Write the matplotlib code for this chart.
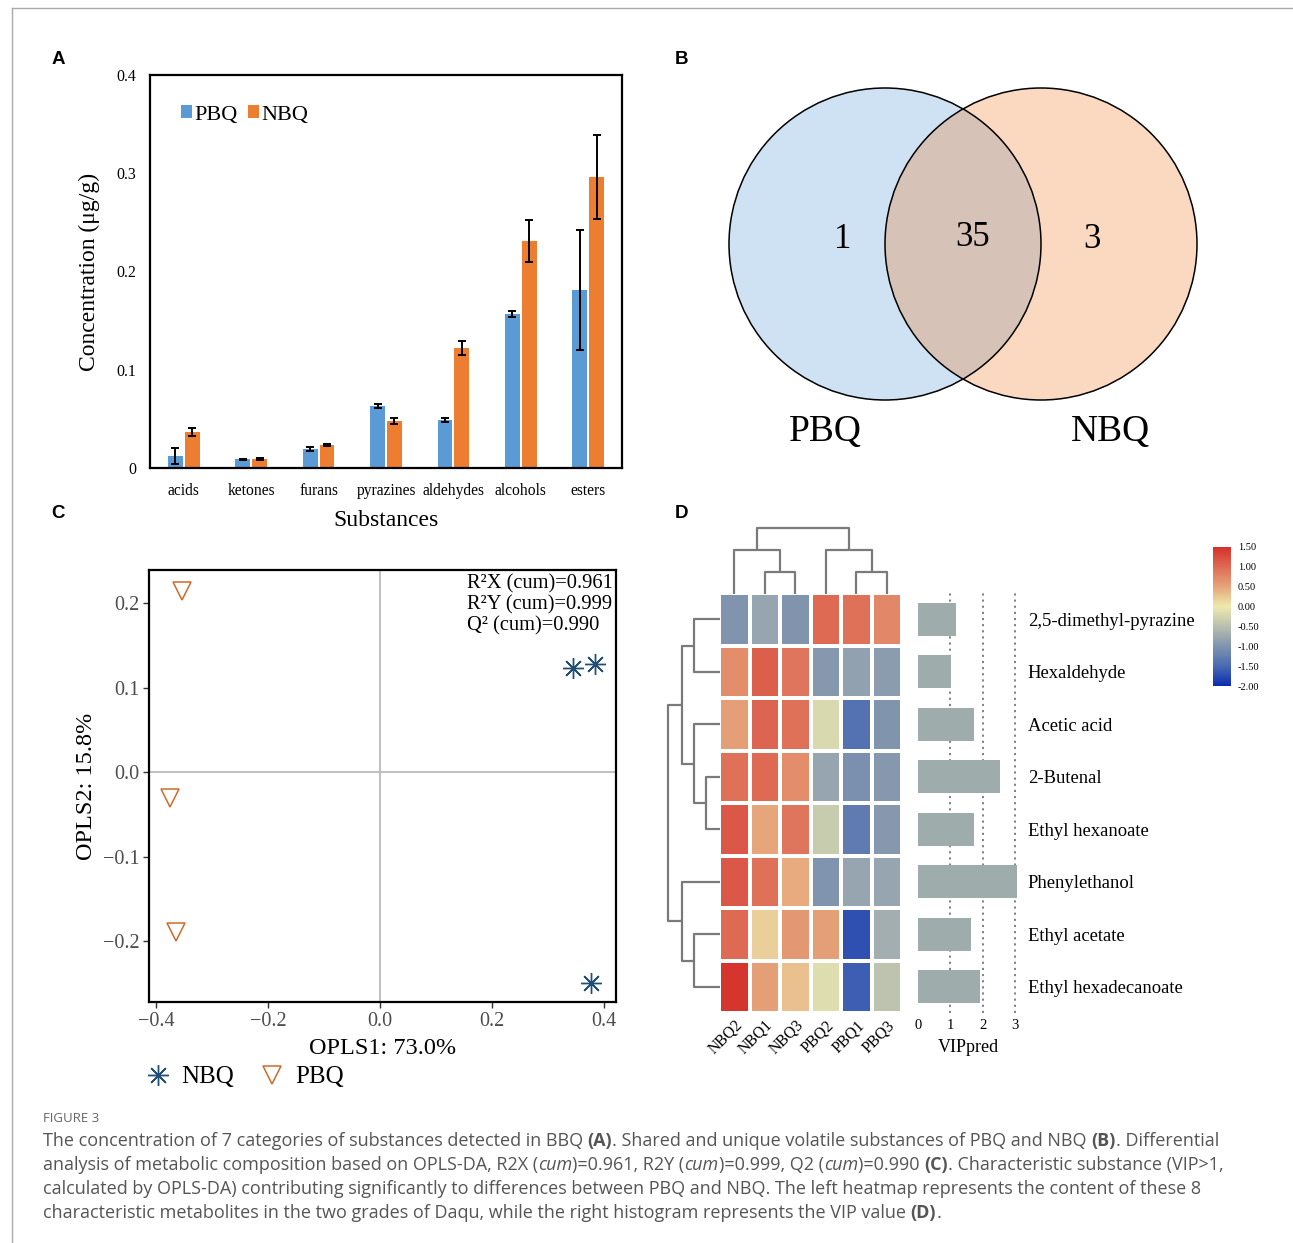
import numpy as np
import matplotlib
matplotlib.use('Agg')
import matplotlib.pyplot as plt
from matplotlib.patches import Circle
from matplotlib.colors import LinearSegmentedColormap
from matplotlib.lines import Line2D
from matplotlib.cm import ScalarMappable
from matplotlib.colors import Normalize

# ---------------- data ----------------
# Panel A
categories = ['acids', 'ketones', 'furans', 'pyrazines', 'aldehydes', 'alcohols', 'esters']
pbq_conc = [0.012, 0.009, 0.019, 0.063, 0.049, 0.157, 0.181]
pbq_err = [0.008, 0.0006, 0.002, 0.002, 0.002, 0.003, 0.061]
nbq_conc = [0.037, 0.009, 0.023, 0.048, 0.122, 0.231, 0.296]
nbq_err = [0.004, 0.001, 0.001, 0.003, 0.007, 0.021, 0.043]
a_yticks = [0, 0.1, 0.2, 0.3, 0.4]
a_yticklabels = ['0', '0.1', '0.2', '0.3', '0.4']

# Panel B
venn_names = ['PBQ', 'NBQ']
venn_only_pbq = 1
venn_shared = 35
venn_only_nbq = 3

# Panel C
nbq_x = [0.345, 0.384, 0.377]
nbq_y = [0.123, 0.128, -0.250]
pbq_x = [-0.354, -0.375, -0.364]
pbq_y = [0.214, -0.031, -0.189]
c_ticks_x = [-0.4, -0.2, 0.0, 0.2, 0.4]
c_ticks_y = [-0.2, -0.1, 0.0, 0.1, 0.2]
opls_stats = ['R\u00b2X (cum)=0.961', 'R\u00b2Y (cum)=0.999', 'Q\u00b2 (cum)=0.990']

# Panel D
samples = ['NBQ2', 'NBQ1', 'NBQ3', 'PBQ2', 'PBQ1', 'PBQ3']
metabolites = ['2,5-dimethyl-pyrazine', 'Hexaldehyde', 'Acetic acid', '2-Butenal',
               'Ethyl hexanoate', 'Phenylethanol', 'Ethyl acetate', 'Ethyl hexadecanoate']
heat_r1 = [-1.00, -0.80, -1.00, 1.00, 0.95, 0.75]
heat_r2 = [0.70, 1.10, 0.90, -0.95, -0.85, -0.90]
heat_r3 = [0.55, 1.05, 0.95, -0.20, -1.40, -1.00]
heat_r4 = [0.95, 1.00, 0.70, -0.80, -1.05, -0.95]
heat_r5 = [1.15, 0.50, 0.90, -0.35, -1.30, -0.95]
heat_r6 = [1.15, 0.95, 0.45, -1.00, -0.80, -0.80]
heat_r7 = [1.00, 0.20, 0.60, 0.55, -1.70, -0.70]
heat_r8 = [1.45, 0.55, 0.30, -0.15, -1.60, -0.45]
vip_values = [1.17, 1.01, 1.73, 2.53, 1.74, 3.07, 1.65, 1.93]
col_merges = [(1, 2, 22), (4, 5, 22), (0, 6, 44), (3, 7, 44), (8, 9, 66)]
row_merges = [(3, 4, 14), (0, 1, 26), (2, 8, 26), (6, 7, 26), (9, 10, 38), (5, 11, 38), (12, 13, 52)]
cbar_ticks = [1.5, 1.0, 0.5, 0.0, -0.5, -1.0, -1.5, -2.0]
cbar_labels = ['1.50', '1.00', '0.50', '0.00', '-0.50', '-1.00', '-1.50', '-2.00']
vip_ticks = [0, 1, 2, 3]

# ---------------- figure ----------------
W, H = 1293, 1243
plt.rcParams['font.family'] = ['Liberation Serif', 'DejaVu Serif']
fig = plt.figure(figsize=(W / 100, H / 100), dpi=100)
fig.patch.set_facecolor('white')


def rect(l, t, r, b):
    return [l / W, 1 - b / H, (r - l) / W, (b - t) / H]


def fx(x):
    return x / W


def fy(y):
    return 1 - y / H


# page frame lines
fig.add_artist(Line2D([fx(12), 1], [fy(8), fy(8)], color='#aaaaaa', lw=1))
fig.add_artist(Line2D([fx(12), fx(12)], [fy(8), 0], color='#aaaaaa', lw=1))

# panel letters
for lab, x, y in [('A', 58, 60), ('B', 681, 60), ('C', 58, 514), ('D', 681, 514)]:
    fig.text(fx(x), fy(y), lab, family=['Liberation Sans', 'DejaVu Sans'], weight='bold',
             fontsize=13.5, ha='center', va='center')

# ---------------- Panel A ----------------
axA = fig.add_axes(rect(150, 75, 622, 468))
xi = np.arange(len(categories))
bw = 0.22
off = 0.125
axA.bar(xi - off, pbq_conc, bw, color='#5B9BD5', label='PBQ', zorder=2)
axA.bar(xi + off, nbq_conc, bw, color='#ED7D31', label='NBQ', zorder=2)
axA.errorbar(xi - off, pbq_conc, yerr=pbq_err, fmt='none', ecolor='black', elinewidth=1.4,
             capsize=3.2, capthick=1.4, zorder=3)
axA.errorbar(xi + off, nbq_conc, yerr=nbq_err, fmt='none', ecolor='black', elinewidth=1.4,
             capsize=3.2, capthick=1.4, zorder=3)
axA.set_xlim(-0.5, len(categories) - 0.5)
axA.set_ylim(0, 0.4)
axA.set_yticks(a_yticks)
axA.set_yticklabels(a_yticklabels, fontsize=11.5)
axA.set_xticks(xi)
axA.set_xticklabels(categories, fontsize=11.2)
axA.tick_params(axis='y', length=0, pad=10)
axA.tick_params(axis='x', length=0, pad=11)
for s in axA.spines.values():
    s.set_linewidth(1.6)
axA.set_ylabel('Concentration (\u03bcg/g)', fontsize=17, labelpad=12)
axA.set_xlabel('Substances', fontsize=17, labelpad=8)
axA.legend(loc='upper left', bbox_to_anchor=(0.032, 0.962), ncol=2, frameon=False, fontsize=16,
           handlelength=0.5, handleheight=0.5, handletextpad=0.12, columnspacing=0.45,
           borderaxespad=0.3)

# ---------------- Panel B ----------------
axB = fig.add_axes(rect(690, 70, 1240, 470))
axB.set_xlim(690, 1240)
axB.set_ylim(470, 70)
axB.axis('off')
cL = (885, 244)
cR = (1041, 244)
r = 156
axB.add_patch(Circle(cL, r, facecolor='#CFE2F3', edgecolor='none', zorder=1))
axB.add_patch(Circle(cR, r, facecolor='#FBD9C1', edgecolor='none', zorder=1))
lens = Circle(cR, r, facecolor='#D6C2B7', edgecolor='none', zorder=2)
axB.add_patch(lens)
clipc = Circle(cL, r, transform=axB.transData, facecolor='none', edgecolor='none')
axB.add_patch(clipc)
lens.set_clip_path(clipc)
axB.add_patch(Circle(cL, r, facecolor='none', edgecolor='black', lw=1.1, zorder=3))
axB.add_patch(Circle(cR, r, facecolor='none', edgecolor='black', lw=1.1, zorder=3))
axB.text(843, 240, str(venn_only_pbq), fontsize=25, ha='center', va='center')
axB.text(973, 238, str(venn_shared), fontsize=25, ha='center', va='center')
axB.text(1092, 240, str(venn_only_nbq), fontsize=25, ha='center', va='center')
axB.text(825, 432, venn_names[0], fontsize=27, ha='center', va='center')
axB.text(1110, 432, venn_names[1], fontsize=27, ha='center', va='center')

# ---------------- Panel C ----------------
axC = fig.add_axes(rect(149, 570, 616, 1002))
axC.set_xlim(-0.4125, 0.4215)
axC.set_ylim(-0.272, 0.239)
axC.axhline(0, color='#bbbbbb', lw=1.3, zorder=1)
axC.axvline(0, color='#bbbbbb', lw=1.3, zorder=1)
star = (8, 2, 0)
nbq_color = '#1F4E79'
pbq_color = '#D0692A'
axC.plot(nbq_x, nbq_y, ls='none', marker=star, ms=15, mew=1.0, color=nbq_color, zorder=3)
axC.plot(pbq_x, pbq_y, ls='none', marker='v', ms=12.5, mew=1.1, mfc='none', mec=pbq_color, zorder=3)
axC.set_xticks(c_ticks_x)
axC.set_yticks(c_ticks_y)
axC.set_xticklabels(['\u22120.4', '\u22120.2', '0.0', '0.2', '0.4'])
axC.set_yticklabels(['\u22120.2', '\u22120.1', '0.0', '0.1', '0.2'])
axC.tick_params(labelsize=14.5, labelcolor='#4d4d4d', length=4, width=1, color='#333333', pad=3)
for s in axC.spines.values():
    s.set_linewidth(1.6)
axC.set_xlabel('OPLS1: 73.0%', fontsize=17.5, labelpad=5)
axC.set_ylabel('OPLS2: 15.8%', fontsize=17.5, labelpad=4)
for i, t in enumerate(opls_stats):
    axC.text(0.682, 0.99 - i * 0.049, t, transform=axC.transAxes, fontsize=14.8, ha='left', va='top')
hN = Line2D([], [], ls='none', marker=star, ms=15, mew=1.0, color=nbq_color)
hP = Line2D([], [], ls='none', marker='v', ms=12.5, mew=1.1, mfc='none', mec=pbq_color)
fig.legend([hN, hP], ['NBQ', 'PBQ'], loc='center left', bbox_to_anchor=(fx(120), fy(1077)),
           ncol=2, frameon=False, fontsize=18, handlelength=1.2, handletextpad=0.35,
           columnspacing=0.9)

# ---------------- Panel D ----------------
heat = np.array([heat_r1, heat_r2, heat_r3, heat_r4, heat_r5, heat_r6, heat_r7, heat_r8])
cmap = LinearSegmentedColormap.from_list('hm', [
    (0.0, '#0A2DB0'), (0.5 / 3.5, '#4A6AB2'), (1.0 / 3.5, '#8094AE'), (1.5 / 3.5, '#B8BFB0'),
    (2.0 / 3.5, '#EEEAAE'), (2.5 / 3.5, '#E6A57A'), (3.0 / 3.5, '#DE6B55'), (1.0, '#D5302A')])
norm = Normalize(vmin=-2.0, vmax=1.5)

axH = fig.add_axes(rect(719, 593, 902, 1013))
axH.pcolormesh(np.arange(len(samples) + 1) - 0.5, np.arange(len(metabolites) + 1) - 0.5, heat,
               cmap=cmap, norm=norm, edgecolors='white', linewidth=1.6)
axH.set_xlim(-0.5, len(samples) - 0.5)
axH.set_ylim(len(metabolites) - 0.5, -0.5)
for s in axH.spines.values():
    s.set_visible(False)
axH.set_yticks([])
axH.set_xticks(np.arange(len(samples)))
axH.set_xticklabels(samples, rotation=45, ha='right', va='top', rotation_mode='anchor', fontsize=11.3)
axH.tick_params(axis='x', length=0, pad=3)


def dendro_segments(n, merges):
    pos = {i: float(i) for i in range(n)}
    hh = {i: 0.0 for i in range(n)}
    segs = []
    for k, (a, b, ht) in enumerate(merges):
        segs.append(([pos[a], pos[a], pos[b], pos[b]], [hh[a], ht, ht, hh[b]]))
        pos[n + k] = (pos[a] + pos[b]) / 2
        hh[n + k] = ht
    return segs


axCD = fig.add_axes(rect(719, 526, 902, 594))
for xs, ys in dendro_segments(len(samples), col_merges):
    axCD.plot(xs, ys, color='#7a7a7a', lw=1.6, solid_capstyle='butt')
axCD.set_xlim(-0.5, len(samples) - 0.5)
axCD.set_ylim(0, 68)
axCD.axis('off')

axRD = fig.add_axes(rect(665, 593, 720, 1013))
for ys, xs in dendro_segments(len(metabolites), row_merges):
    axRD.plot(xs, ys, color='#7a7a7a', lw=1.6, solid_capstyle='butt')
axRD.set_xlim(55, 0)
axRD.set_ylim(len(metabolites) - 0.5, -0.5)
axRD.axis('off')

axV = fig.add_axes(rect(918, 593, 1018, 1013))
axV.barh(np.arange(len(metabolites)), vip_values, height=0.63, color='#9EADAB', zorder=2)
for v in [1, 2, 3]:
    axV.axvline(v, color='#777777', ls=(0, (1.2, 2.2)), lw=1.3, zorder=1)
axV.set_xlim(0, 3.1)
axV.set_ylim(len(metabolites) - 0.5, -0.5)
for s in axV.spines.values():
    s.set_visible(False)
axV.set_xticks(vip_ticks)
axV.set_xticklabels([str(v) for v in vip_ticks], fontsize=10.5)
axV.tick_params(axis='x', length=0, pad=4)
axV.yaxis.tick_right()
axV.set_yticks(np.arange(len(metabolites)))
axV.set_yticklabels(metabolites, fontsize=13.4)
axV.tick_params(axis='y', length=0, pad=7)
axV.set_xlabel('VIPpred', fontsize=13, labelpad=5)

axCB = fig.add_axes(rect(1213, 547, 1231, 686))
cb = fig.colorbar(ScalarMappable(norm=norm, cmap=cmap), cax=axCB, ticks=cbar_ticks)
cb.outline.set_visible(False)
axCB.set_yticklabels(cbar_labels, fontsize=7.5)
axCB.tick_params(length=0, pad=5)

# ---------------- caption ----------------
cap_family = ['Open Sans', 'DejaVu Sans']
cap_color = '#555555'
fig.text(fx(43), fy(1118), 'FIGURE 3', family=cap_family, fontsize=9.5, color='#666666',
         va='center')

renderer = fig.canvas.get_renderer()


def rich_line(y_px, chunks, size=12.95):
    x = 43
    for txt, weight, style in chunks:
        t = fig.text(fx(x), fy(y_px), txt, family=cap_family, fontsize=size, color=cap_color,
                     weight=weight, style=style, va='center')
        x += t.get_window_extent(renderer).width


N = ('normal', 'normal')
Bd = ('bold', 'normal')
It = ('normal', 'italic')
lines = [
    [('The concentration of 7 categories of substances detected in BBQ ',) + N, ('(A)',) + Bd,
     ('. Shared and unique volatile substances of PBQ and NBQ ',) + N, ('(B)',) + Bd,
     ('. Differential',) + N],
    [('analysis of metabolic composition based on OPLS-DA, R2X (',) + N, ('cum',) + It,
     (')=0.961, R2Y (',) + N, ('cum',) + It, (')=0.999, Q2 (',) + N, ('cum',) + It,
     (')=0.990 ',) + N, ('(C)',) + Bd, ('. Characteristic substance (VIP>1,',) + N],
    [('calculated by OPLS-DA) contributing significantly to differences between PBQ and NBQ. The left heatmap represents the content of these 8',) + N],
    [('characteristic metabolites in the two grades of Daqu, while the right histogram represents the VIP value ',) + N,
     ('(D)',) + Bd, ('.',) + N],
]
for i, ch in enumerate(lines):
    rich_line(1141 + 24 * i, ch)

fig.savefig('out.png', dpi=100)
